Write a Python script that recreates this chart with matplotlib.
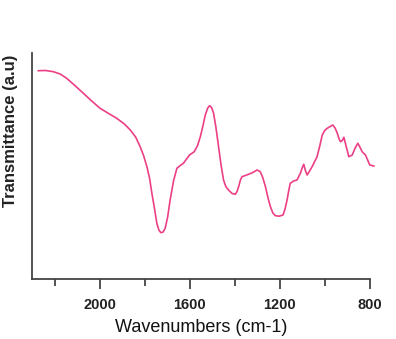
import matplotlib
matplotlib.use("Agg")
import matplotlib.pyplot as plt

wavenumber = [2272, 2240, 2205, 2175, 2146, 2110, 2072, 2035, 1998, 1960, 1924,
              1890, 1864, 1840, 1820, 1805, 1790, 1778, 1768, 1756, 1746, 1737,
              1728, 1718, 1709, 1698, 1687, 1672, 1657, 1642, 1628, 1601, 1580,
              1566, 1553, 1542, 1531, 1520, 1512, 1503, 1494, 1483, 1472, 1461,
              1450, 1440, 1428, 1412, 1398, 1390, 1383, 1375, 1368, 1339, 1320,
              1301, 1287, 1276, 1264, 1253, 1242, 1231, 1220, 1203, 1186, 1177,
              1168, 1161, 1154, 1139, 1124, 1109, 1101, 1094, 1086, 1079, 1068,
              1057, 1035, 1023, 1012, 1001, 990, 965, 955, 945, 938, 931, 923,
              916, 905, 894, 879, 866, 854, 845, 835, 820, 801, 783]
transmittance = [208.3, 208.5, 207.3, 205, 200.7, 193.5, 185.7, 178, 170.7, 165.5,
                 160.7, 155, 149, 142, 132.3, 123.5, 112.3, 100.5, 85.7, 70,
                 55.7, 49, 46.3, 47, 50.7, 62, 79, 98, 110.7, 113.5, 115.7, 124,
                 127.3, 133, 142.3, 152.5, 164, 171, 173.3, 171.5, 165.7, 150.5,
                 132.3, 114, 99, 92.5, 89, 85.5, 84.7, 87.5, 92.3, 99, 102.3, 104.7,
                 106.5, 109, 107.3, 101.5, 92.3, 81.5, 72.3, 66, 63.3, 62.8, 64,
                 70, 79, 88, 95.7, 98, 99, 105.7, 111, 114.7, 108, 104, 108,
                 112.3, 122.3, 133, 144, 148.5, 150.7, 154, 151, 145.7, 140.5,
                 137.3, 138.5, 141.7, 132, 122.3, 124, 131, 135.7, 132, 127.3,
                 124, 114, 113]
xticks = [2000, 1600, 1200, 800]
minor_xticks = [2200, 1800, 1400, 1000]
xlabel = "Wavenumbers (cm-1)"
ylabel = "Transmittance (a.u)"

fig = plt.figure(figsize=(3.96, 3.39), dpi=100)
ax = fig.add_axes([32 / 396, 1 - 279 / 339, (370 - 32) / 396, (279 - 53) / 339])
ax.plot(wavenumber, transmittance, color="#ec3f86", lw=1.2, clip_on=False,
        solid_joinstyle="round")
ax.set_xlim(2300, 800)
ax.set_ylim(0, 226)
ax.set_xticks(xticks)
ax.set_xticks(minor_xticks, minor=True)
ax.set_yticks([])
for s in ("top", "right"):
    ax.spines[s].set_visible(False)
for s in ("left", "bottom"):
    ax.spines[s].set_color("#444444")
    ax.spines[s].set_linewidth(1.3)
ax.tick_params(axis="x", which="major", length=7.5, width=1.3, color="#444444",
               direction="out", pad=6)
ax.tick_params(axis="x", which="minor", length=5, width=1.3, color="#444444",
               direction="out")
for lab in ax.get_xticklabels():
    lab.set_fontfamily("Liberation Sans")
    lab.set_fontweight("bold")
    lab.set_fontsize(10.5)
    lab.set_color("#222222")
ax.set_xlabel(xlabel, fontfamily="Liberation Sans", fontsize=13, color="#111111",
              labelpad=5)
fig.text(11 / 396, 1 - 131 / 339, ylabel, rotation=90, ha="center", va="center",
         fontfamily="Liberation Sans", fontweight="bold", fontsize=12,
         color="#222222")
fig.savefig("out.png", dpi=100)
